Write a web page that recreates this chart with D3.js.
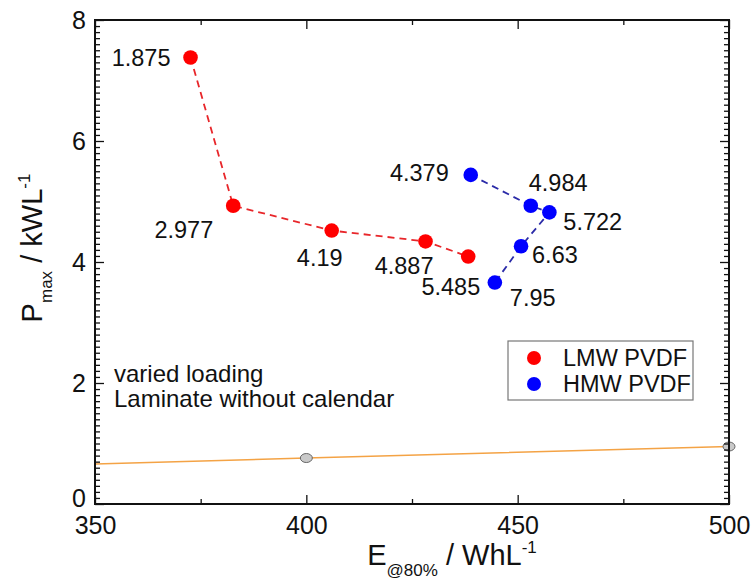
<!DOCTYPE html>
<html>
<head>
<meta charset="utf-8">
<script src="https://cdn.jsdelivr.net/npm/d3@7"></script>
<style>
  html, body { margin: 0; padding: 0; background: #fff; }
  svg { display: block; font-family: "Liberation Sans", Arial, sans-serif; }
</style>
</head>
<body>
<svg id="chart" width="751" height="584"></svg>
<script>
// ---- data ----
const lmwE = [372.6, 382.7, 406.0, 428.2, 438.3];
const lmwP = [7.38, 4.93, 4.52, 4.34, 4.09];
const lmwLabels = ["1.875", "2.977", "4.19", "4.887", "5.485"];

const hmwE = [438.9, 453.1, 457.5, 450.8, 444.6];
const hmwP = [5.44, 4.93, 4.82, 4.26, 3.66];
const hmwLabels = ["4.379", "4.984", "5.722", "6.63", "7.95"];

const refE = [350, 400, 500];
const refP = [0.66, 0.76, 0.95];
const refMarkerE = [400, 500];
const refMarkerP = [0.76, 0.95];

const xTicks = [350, 400, 450, 500];
const yTicks = [0, 2, 4, 6, 8];
const seriesNames = ["LMW PVDF", "HMW PVDF"];
const notes = ["varied loading", "Laminate without calendar"];

// ---- layout ----
const svg = d3.select("#chart");
const L = 95, R = 729, T = 20, B = 504;
const x = d3.scaleLinear().domain([350, 500]).range([L, R]);
const y = d3.scaleLinear().domain([0, 8]).range([B, T]);
const FONT = "Liberation Sans, Arial, sans-serif";

// reference orange line
const refData = refE.map((e, i) => ({ e, p: refP[i] }));
svg.append("path")
  .datum(refData)
  .attr("fill", "none")
  .attr("stroke", "#f4a345")
  .attr("stroke-width", 1.6)
  .attr("d", d3.line().x(d => x(d.e)).y(d => y(d.p)));

svg.selectAll(".refm").data(refMarkerE.map((e, i) => ({ e, p: refMarkerP[i] })))
  .enter().append("ellipse")
  .attr("cx", d => x(d.e)).attr("cy", d => y(d.p))
  .attr("rx", 6).attr("ry", 4.5)
  .attr("fill", "#c9c9c9").attr("stroke", "#666").attr("stroke-width", 1);

// axes (ticks inward)
const major = 9, minor = 5;
const yMinor = d3.range(0, 80.5, 1).map(v => v / 10).filter(v => v % 2 !== 0);
const xMinor = [375, 425, 475];

const gAx = svg.append("g");
// left
gAx.append("g").attr("transform", `translate(${L},0)`)
  .call(d3.axisRight(y).tickValues(yMinor).tickSize(minor).tickFormat(""))
  .call(g => g.select(".domain").remove());
gAx.append("g").attr("transform", `translate(${L},0)`)
  .call(d3.axisRight(y).tickValues(yTicks).tickSize(major).tickFormat(""))
  .call(g => g.select(".domain").remove());
gAx.append("g").attr("transform", `translate(${L},0)`)
  .call(d3.axisLeft(y).tickValues(yTicks).tickSize(0).tickPadding(9).tickFormat(d3.format("d")))
  .call(g => g.select(".domain").remove())
  .selectAll("text").attr("font-size", 25).attr("fill", "#111").attr("font-family", FONT)
  .attr("dy", d => d === 0 ? "0.1em" : "0.32em");
// right
gAx.append("g").attr("transform", `translate(${R},0)`)
  .call(d3.axisLeft(y).tickValues(yMinor).tickSize(minor).tickFormat(""))
  .call(g => g.select(".domain").remove());
gAx.append("g").attr("transform", `translate(${R},0)`)
  .call(d3.axisLeft(y).tickValues(yTicks).tickSize(major).tickFormat(""))
  .call(g => g.select(".domain").remove());
// bottom
gAx.append("g").attr("transform", `translate(0,${B})`)
  .call(d3.axisTop(x).tickValues(xMinor).tickSize(minor).tickFormat(""))
  .call(g => g.select(".domain").remove());
gAx.append("g").attr("transform", `translate(0,${B})`)
  .call(d3.axisTop(x).tickValues(xTicks).tickSize(major).tickFormat(""))
  .call(g => g.select(".domain").remove());
gAx.append("g").attr("transform", `translate(0,${B})`)
  .call(d3.axisBottom(x).tickValues(xTicks).tickSize(0).tickPadding(10).tickFormat(d3.format("d")))
  .call(g => g.select(".domain").remove())
  .selectAll("text").attr("font-size", 25).attr("fill", "#111").attr("font-family", FONT)
  .attr("dy", "0.78em");
// top
gAx.append("g").attr("transform", `translate(0,${T})`)
  .call(d3.axisBottom(x).tickValues(xMinor).tickSize(minor).tickFormat(""))
  .call(g => g.select(".domain").remove());
gAx.append("g").attr("transform", `translate(0,${T})`)
  .call(d3.axisBottom(x).tickValues(xTicks).tickSize(major).tickFormat(""))
  .call(g => g.select(".domain").remove());
gAx.selectAll("line").attr("stroke", "#111").attr("stroke-width", 1.3);

// frame
svg.append("rect").attr("x", L).attr("y", T).attr("width", R - L).attr("height", B - T)
  .attr("fill", "none").attr("stroke", "#111").attr("stroke-width", 2);

// series
function drawSeries(E, P, labels, color, lineColor, place) {
  const pts = E.map((e, i) => ({ e, p: P[i], label: labels[i], pl: place[i] }));
  svg.append("path").datum(pts)
    .attr("fill", "none").attr("stroke", lineColor).attr("stroke-width", 1.8)
    .attr("stroke-dasharray", "7,5")
    .attr("d", d3.line().x(d => x(d.e)).y(d => y(d.p)));
  svg.selectAll(null).data(pts).enter().append("circle")
    .attr("cx", d => x(d.e)).attr("cy", d => y(d.p)).attr("r", 7.3).attr("fill", color);
  svg.selectAll(null).data(pts).enter().append("text")
    .attr("x", d => x(d.e) + d.pl[1]).attr("y", d => y(d.p) + d.pl[2])
    .attr("text-anchor", d => d.pl[0]).attr("dominant-baseline", "central")
    .attr("font-size", 23.5).attr("fill", "#111").text(d => d.label);
}
const lmwPlace = [["end", -20, 0], ["end", -20, 24], ["middle", -12, 27], ["end", 8, 25], ["end", 12, 30]];
const hmwPlace = [["end", -22, -2], ["start", -2, -23], ["start", 14, 10], ["start", 11, 9], ["start", 15, 15]];
drawSeries(lmwE, lmwP, lmwLabels, "#ff0000", "#e8262a", lmwPlace);
drawSeries(hmwE, hmwP, hmwLabels, "#0000ff", "#2b2ba8", hmwPlace);

// legend
const lg = svg.append("g");
lg.append("rect").attr("x", 508).attr("y", 341).attr("width", 185).attr("height", 59)
  .attr("fill", "#fff").attr("stroke", "#777").attr("stroke-width", 1.2);
const legColors = ["#ff0000", "#0000ff"];
seriesNames.forEach((n, i) => {
  lg.append("circle").attr("cx", 534).attr("cy", 358 + i * 26).attr("r", 7).attr("fill", legColors[i]);
  lg.append("text").attr("x", 563).attr("y", 358 + i * 26).attr("dominant-baseline", "central")
    .attr("font-size", 23.5).attr("fill", "#111").text(n);
});

// notes
notes.forEach((t, i) => {
  svg.append("text").attr("x", 114).attr("y", 373 + i * 25).attr("dominant-baseline", "central")
    .attr("font-size", 24).attr("fill", "#111").text(t);
});

// axis titles
const xt = svg.append("text").attr("x", 452).attr("y", 565).attr("text-anchor", "middle")
  .attr("font-size", 29).attr("fill", "#111");
xt.append("tspan").text("E");
xt.append("tspan").attr("font-size", 17).attr("dy", 11).text("@80%");
xt.append("tspan").attr("dy", -11).text(" / WhL");
xt.append("tspan").attr("font-size", 17).attr("dy", -12).text("-1");

const yt = svg.append("text").attr("transform", "translate(42,248) rotate(-90)")
  .attr("text-anchor", "middle").attr("font-size", 29).attr("fill", "#111");
yt.append("tspan").text("P");
yt.append("tspan").attr("font-size", 17).attr("dy", 10).text("max");
yt.append("tspan").attr("dy", -10).text(" / kWL");
yt.append("tspan").attr("font-size", 17).attr("dy", -12).text("-1");
</script>
</body>
</html>
